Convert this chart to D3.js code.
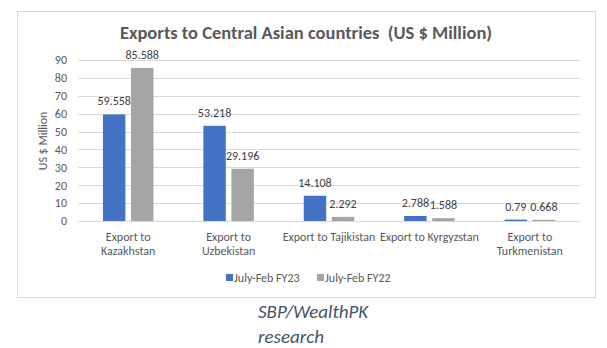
<!DOCTYPE html>
<html>
<head>
<meta charset="utf-8">
<script src="https://cdn.jsdelivr.net/npm/d3@7"></script>
<style>
  html, body { margin: 0; padding: 0; background: #fff; }
  svg { display: block; }
  text { font-family: Carlito, Lato, sans-serif; }
</style>
</head>
<body>
<svg id="chart" width="607" height="348"></svg>
<script>
const categories = ["Export to Kazakhstan", "Export to Uzbekistan", "Export to Tajikistan", "Export to Kyrgyzstan", "Export to Turkmenistan"];
const categoryLines = [["Export to", "Kazakhstan"], ["Export to", "Uzbekistan"], ["Export to Tajikistan"], ["Export to Kyrgyzstan"], ["Export to", "Turkmenistan"]];
const seriesNames = ["July-Feb FY23", "July-Feb FY22"];
const fy23 = [59.558, 53.218, 14.108, 2.788, 0.79];
const fy22 = [85.588, 29.196, 2.292, 1.588, 0.668];
const fy23Labels = ["59.558", "53.218", "14.108", "2.788", "0.79"];
const fy22Labels = ["85.588", "29.196", "2.292", "1.588", "0.668"];
const yTicks = [0, 10, 20, 30, 40, 50, 60, 70, 80, 90];
const titleText = "Exports to Central Asian countries  (US $ Million)";
const yTitle = "US $ Million";
const sourceLines = ["SBP/WealthPK", "research"];

const colors = ["#4472C4", "#A5A5A5"];
const textColor = "#595959";

const svg = d3.select("#chart");

svg.append("rect").attr("x", 17.5).attr("y", 11.5).attr("width", 578).attr("height", 286)
  .attr("fill", "#fff").attr("stroke", "#D9D9D9").attr("stroke-width", 1);

const plotL = 78, plotR = 580, plotT = 60, plotB = 221;
const y = d3.scaleLinear().domain([0, 90]).range([plotB, plotT]);
const x0 = d3.scaleBand().domain(categories).range([plotL, plotR]).paddingInner(0.497).paddingOuter(0.2485);
const x1 = d3.scaleBand().domain(seriesNames).range([0, x0.bandwidth()]).paddingInner(0.2).paddingOuter(0);

const yAxis = d3.axisLeft(y).tickValues(yTicks).tickSize(-(plotR - plotL)).tickPadding(11).tickFormat(d3.format("d"));
const gAxis = svg.append("g").attr("transform", `translate(${plotL},0)`).call(yAxis);
gAxis.select(".domain").remove();
gAxis.selectAll(".tick line").attr("stroke", "#D9D9D9").attr("stroke-width", 1)
  .attr("shape-rendering", "crispEdges");
gAxis.selectAll(".tick text").attr("fill", textColor).style("font-size", "12px")
  .style("font-family", "Carlito, Lato, sans-serif");

const data = categories.map((c, i) => ({ c, i, vals: [
  { s: seriesNames[0], v: fy23[i], lab: fy23Labels[i] },
  { s: seriesNames[1], v: fy22[i], lab: fy22Labels[i] }
]}));

const groups = svg.append("g").selectAll("g").data(data).join("g")
  .attr("transform", d => `translate(${x0(d.c)},0)`);

groups.selectAll("rect").data(d => d.vals).join("rect")
  .attr("x", d => x1(d.s))
  .attr("y", d => y(d.v))
  .attr("width", x1.bandwidth())
  .attr("height", d => y(0) - y(d.v))
  .attr("fill", (d, j) => colors[j]);

groups.selectAll("text.lbl").data(d => d.vals).join("text")
  .attr("class", "lbl")
  .attr("x", d => x1(d.s) + x1.bandwidth() / 2)
  .attr("y", d => y(d.v) - 9)
  .attr("text-anchor", "middle")
  .attr("fill", "#404040")
  .style("font-size", "12px")
  .text(d => d.lab);

const cat = svg.append("g").selectAll("text").data(data).join("text")
  .attr("x", d => x0(d.c) + x0.bandwidth() / 2)
  .attr("y", 241)
  .attr("text-anchor", "middle")
  .attr("fill", textColor)
  .style("font-size", "12px");
cat.selectAll("tspan").data(d => categoryLines[d.i]).join("tspan")
  .attr("x", function() { return d3.select(this.parentNode).attr("x"); })
  .attr("dy", (d, k) => k === 0 ? 0 : 14)
  .text(d => d);

svg.append("text").attr("x", 306).attr("y", 39).attr("text-anchor", "middle")
  .attr("fill", textColor).style("font-size", "18.5px").style("font-weight", "bold")
  .style("white-space", "pre").text(titleText);

svg.append("text").attr("transform", "translate(47,141) rotate(-90)")
  .attr("text-anchor", "middle").attr("fill", textColor).style("font-size", "12px")
  .text(yTitle);

const legend = svg.append("g");
const legX = [226, 317];
seriesNames.forEach((s, j) => {
  legend.append("rect").attr("x", legX[j]).attr("y", 274).attr("width", 7).attr("height", 7).attr("fill", colors[j]);
  legend.append("text").attr("x", legX[j] + 8).attr("y", 282).attr("fill", textColor)
    .style("font-size", "12px").text(s);
});

svg.append("g").selectAll("text").data(sourceLines).join("text")
  .attr("x", 258).attr("y", (d, k) => 318 + k * 25)
  .attr("fill", "#44546A").style("font-size", "19px").style("font-style", "italic")
  .style("font-weight", "300").text(d => d);
</script>
</body>
</html>
